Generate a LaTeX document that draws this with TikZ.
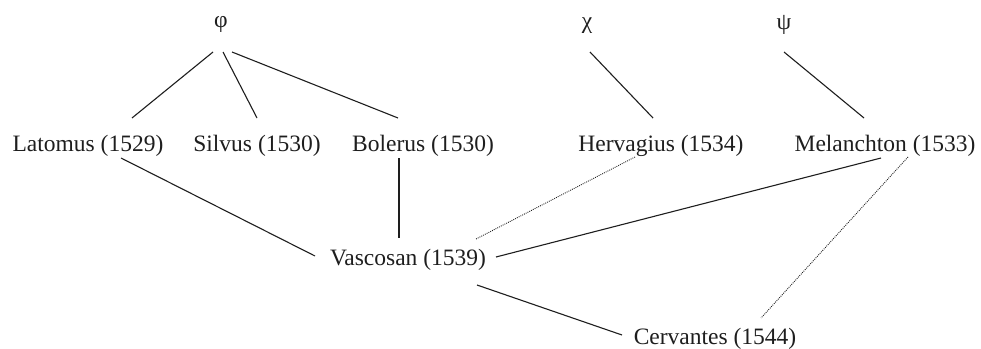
\documentclass[tikz,border=0pt]{standalone}
\usepackage{fontspec}
\setmainfont{Liberation Serif}
\usetikzlibrary{calc}
\definecolor{ink}{RGB}{30,30,30}
\begin{document}
\begin{tikzpicture}[x=1pt,y=-1pt,
  every node/.style={inner sep=0pt,text=ink,font=\fontsize{23.5}{28}\selectfont},
  lbl/.style={anchor=base},
  greek/.style={anchor=center},
  conn/.style={draw=ink,line width=1.1pt},
  dotconn/.style={draw=ink,line width=0.9pt,dash pattern=on 0.9pt off 1.1pt}]
\useasboundingbox (0,0) rectangle (981,348);
\node[greek] (phi) at (221,24) {φ};
\node[greek] (chi) at (587,26) {χ};
\node[greek] (psi) at (784,25) {ψ};
\node[lbl] (lat) at (88,151) {Latomus (1529)};
\node[lbl] (sil) at (257,151) {Silvus (1530)};
\node[lbl] (bol) at (423,151) {Bolerus (1530)};
\node[lbl] (her) at (661,151) {Hervagius (1534)};
\node[lbl] (mel) at (885,151) {Melanchton (1533)};
\node[lbl] (vas) at (408,265) {Vascosan (1539)};
\node[lbl] (cer) at (715,344) {Cervantes (1544)};
\draw[conn] ($(phi.center)+(-8,28)$) -- ($(lat.base)+(44,-33)$);
\draw[conn] ($(phi.center)+(2,28)$) -- ($(sil.base)+(0,-33)$);
\draw[conn] ($(phi.center)+(11,28)$) -- ($(bol.base)+(-25,-33)$);
\draw[conn] ($(chi.center)+(3,26)$) -- ($(her.base)+(-8,-33)$);
\draw[conn] ($(psi.center)+(0,27)$) -- ($(mel.base)+(-21,-33)$);
\draw[conn] ($(lat.base)+(33,7)$) -- ($(vas.base)+(-93,-9)$);
\draw[conn] ($(bol.base)+(-24,7)$) -- ($(vas.base)+(-9,-27)$);
\draw[dotconn] ($(her.base)+(-26,6)$) -- ($(vas.base)+(68,-26)$);
\draw[conn] ($(mel.base)+(-4,7)$) -- ($(vas.base)+(88,-8)$);
\draw[conn] ($(vas.base)+(69,20)$) -- ($(cer.base)+(-93,-9)$);
\draw[dotconn] ($(mel.base)+(23,6)$) -- ($(cer.base)+(46,-26)$);
\end{tikzpicture}
\end{document}
